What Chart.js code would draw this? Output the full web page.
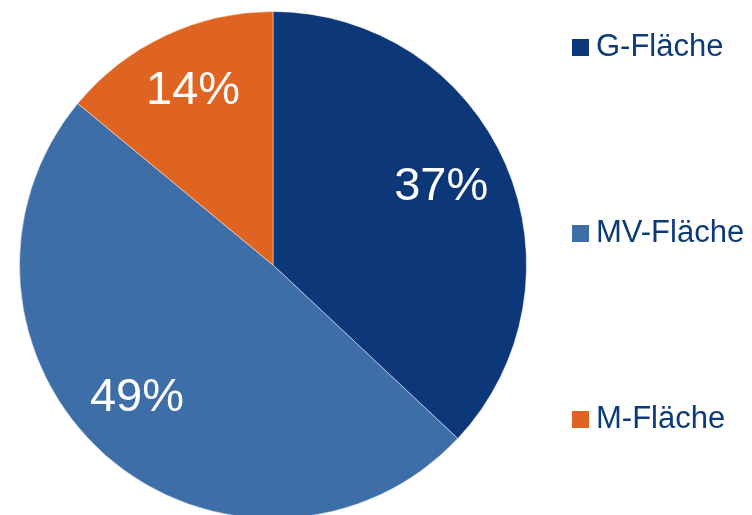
<!DOCTYPE html>
<html>
<head>
<meta charset="utf-8">
<script src="https://cdn.jsdelivr.net/npm/chart.js@4"></script>
<style>
  html, body { margin: 0; padding: 0; background: #fff; }
  #wrap { width: 752px; height: 515px; overflow: hidden; position: relative; }
  #wrap canvas { display: block; }
</style>
</head>
<body>
<div id="wrap"><canvas id="pieChart" width="752" height="530"></canvas></div>
<script>
const categories = ['G-Fläche', 'MV-Fläche', 'M-Fläche'];
const shares = [37, 49, 14];
const sliceColors = ['#0c3779', '#3e6ea8', '#df6421'];

const textBlue = '#0d3a7a';
const fontFamily = "'Liberation Sans', Arial, Helvetica, sans-serif";

// percent labels inside each slice, near 3/4 of the radius, with small hand nudges
const sliceLabels = {
    id: 'sliceLabels',
    afterDatasetsDraw(chart, args, opts) {
        const ctx = chart.ctx;
        const arcs = chart.getDatasetMeta(0).data;
        ctx.save();
        ctx.fillStyle = '#ffffff';
        ctx.font = '47px ' + fontFamily;
        ctx.textAlign = 'center';
        ctx.textBaseline = 'middle';
        arcs.forEach((arc, i) => {
            const p = arc.getProps(['x', 'y', 'startAngle', 'endAngle', 'outerRadius'], true);
            const mid = (p.startAngle + p.endAngle) / 2;
            const r = p.outerRadius * 0.74;
            const n = opts.nudge[i] || [0, 0];
            ctx.fillText(shares[i] + '%', p.x + Math.cos(mid) * r + n[0], p.y + Math.sin(mid) * r + n[1]);
        });
        ctx.restore();
    }
};

// legend on the right, widely spaced
const sideLegend = {
    id: 'sideLegend',
    afterDraw(chart) {
        const ctx = chart.ctx;
        const rows = [39, 225, 411];
        ctx.save();
        ctx.font = '31px ' + fontFamily;
        ctx.textBaseline = 'alphabetic';
        categories.forEach((name, i) => {
            ctx.fillStyle = sliceColors[i];
            ctx.fillRect(572, rows[i], 17, 17);
            ctx.fillStyle = textBlue;
            ctx.fillText(name, 596, rows[i] + 17);
        });
        ctx.restore();
    }
};

const ctx = document.getElementById('pieChart').getContext('2d');
new Chart(ctx, {
    type: 'pie',
    data: {
        labels: categories,
        datasets: [{
            data: shares,
            backgroundColor: sliceColors,
            borderColor: 'rgba(255,255,255,0.45)',
            borderWidth: 1
        }]
    },
    options: {
        responsive: false,
        animation: false,
        layout: { padding: { left: 19, right: 225, top: 11, bottom: 11 } },
        plugins: {
            legend: { display: false },
            tooltip: { enabled: false },
            sliceLabels: { nudge: [[-4, -3], [-12, -8], [0, -4]] }
        }
    },
    plugins: [sliceLabels, sideLegend]
});
</script>
</body>
</html>
